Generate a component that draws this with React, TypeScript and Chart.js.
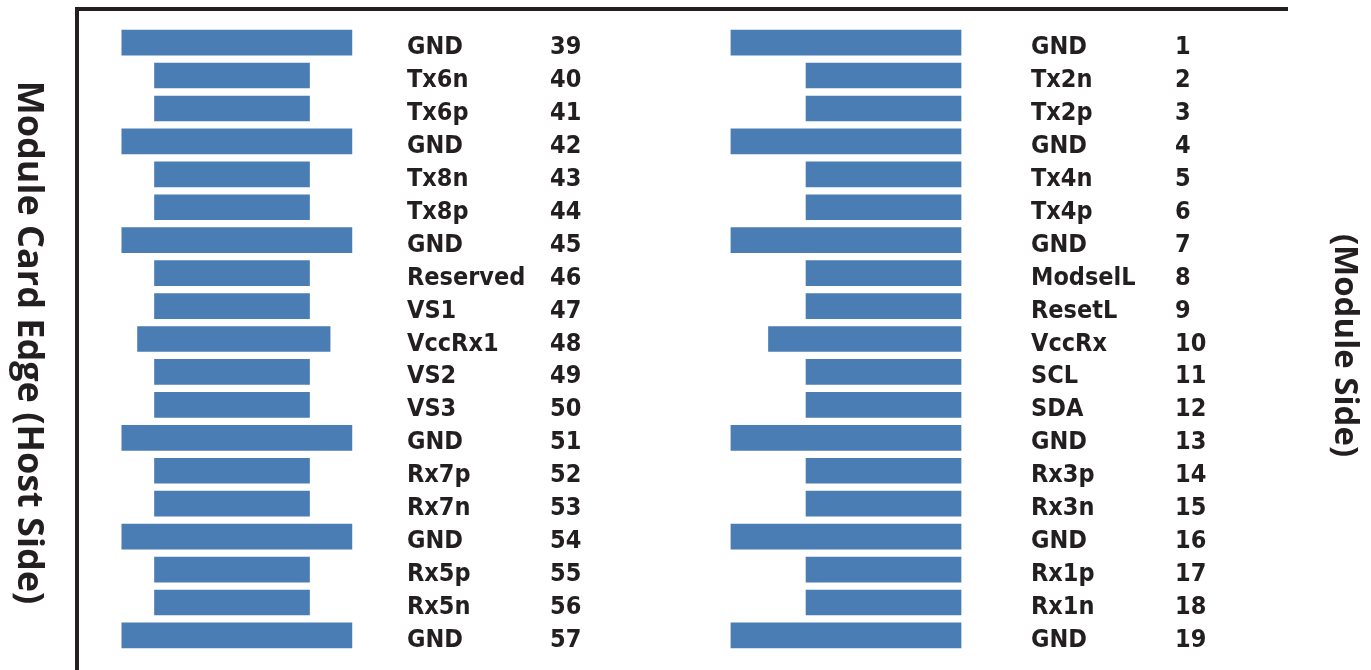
import React, { useEffect, useRef } from "react";
import { Chart, registerables } from "chart.js";

Chart.register(...registerables);

// Host side (left column) pins 39..57
const leftPinNumbers = ["39","40","41","42","43","44","45","46","47","48","49","50","51","52","53","54","55","56","57"];
const leftPinNames = ["GND","Tx6n","Tx6p","GND","Tx8n","Tx8p","GND","Reserved","VS1","VccRx1","VS2","VS3","GND","Rx7p","Rx7n","GND","Rx5p","Rx5n","GND"];
const leftBarStart = [3.7,6.4,6.4,3.7,6.4,6.4,3.7,6.4,6.4,5.0,6.4,6.4,3.7,6.4,6.4,3.7,6.4,6.4,3.7];
const leftBarEnd = [22.7,19.2,19.2,22.7,19.2,19.2,22.7,19.2,19.2,20.9,19.2,19.2,22.7,19.2,19.2,22.7,19.2,19.2,22.7];

// Module side (right column) pins 1..19
const rightPinNumbers = ["1","2","3","4","5","6","7","8","9","10","11","12","13","14","15","16","17","18","19"];
const rightPinNames = ["GND","Tx2n","Tx2p","GND","Tx4n","Tx4p","GND","ModselL","ResetL","VccRx","SCL","SDA","GND","Rx3p","Rx3n","GND","Rx1p","Rx1n","GND"];
const rightBarStart = [54.0,60.2,60.2,54.0,60.2,60.2,54.0,60.2,60.2,57.1,60.2,60.2,54.0,60.2,60.2,54.0,60.2,60.2,54.0];
const rightBarEnd = [73.0,73.0,73.0,73.0,73.0,73.0,73.0,73.0,73.0,73.0,73.0,73.0,73.0,73.0,73.0,73.0,73.0,73.0,73.0];

// label columns (x-scale units)
const leftNameCol = 27.25;
const leftNumCol = 39.06;
const rightNameCol = 78.78;
const rightNumCol = 90.67;

const leftTitle = "Module Card Edge (Host Side)";
const rightTitle = "(Module Side)";

const BAR_COLOR = "#4a7db3";
const INK = "#231f20";

export default function App() {
  const ref = useRef<HTMLCanvasElement | null>(null);

  useEffect(() => {
    document.body.style.margin = "0";
    const canvas = ref.current;
    if (!canvas) return;

    const labelsPlugin = {
      id: "pinLabels",
      afterDatasetsDraw(chart: any) {
        const { ctx, chartArea, scales } = chart;
        const xs = scales.x;
        const ys = scales.y;
        ctx.save();
        // frame lines
        ctx.strokeStyle = INK;
        ctx.lineWidth = 4;
        ctx.beginPath();
        ctx.moveTo(chartArea.left, chartArea.bottom);
        ctx.lineTo(chartArea.left, chartArea.top);
        ctx.lineTo(chartArea.right, chartArea.top);
        ctx.stroke();

        ctx.fillStyle = INK;
        ctx.font = "bold 25px 'DejaVu Sans Condensed', 'DejaVu Sans', sans-serif";
        ctx.textAlign = "left";
        ctx.textBaseline = "alphabetic";
        const draw = (names: string[], nums: string[], nameCol: number, numCol: number) => {
          names.forEach((n, i) => {
            const y = ys.getPixelForValue(i) + 11.5;
            ctx.fillText(n, xs.getPixelForValue(nameCol), y);
            ctx.fillText(nums[i], xs.getPixelForValue(numCol), y);
          });
        };
        draw(leftPinNames, leftPinNumbers, leftNameCol, leftNumCol);
        draw(rightPinNames, rightPinNumbers, rightNameCol, rightNumCol);

        // vertical titles (rotated clockwise)
        ctx.textAlign = "center";
        ctx.textBaseline = "middle";
        const midY = (chartArea.top + chartArea.bottom) / 2;
        ctx.save();
        ctx.font = "bold 36px 'Open Sans', sans-serif";
        ctx.translate(chartArea.left - 49, midY + 3);
        ctx.rotate(Math.PI / 2);
        ctx.fillText(leftTitle, 0, 0);
        ctx.restore();
        ctx.save();
        ctx.font = "bold 33px 'Open Sans', sans-serif";
        ctx.translate(chartArea.right + 56, midY + 6);
        ctx.rotate(Math.PI / 2);
        ctx.fillText(rightTitle, 0, 0);
        ctx.restore();
        ctx.restore();
      },
    };

    const chart = new Chart(canvas, {
      type: "bar",
      data: {
        datasets: [
          {
            label: "Host side",
            data: leftBarStart.map((s, i) => ({ x: [s, leftBarEnd[i]], y: i })) as any,
            backgroundColor: BAR_COLOR,
            borderWidth: 0,
            barThickness: 25,
            grouped: false,
          },
          {
            label: "Module side",
            data: rightBarStart.map((s, i) => ({ x: [s, rightBarEnd[i]], y: i })) as any,
            backgroundColor: BAR_COLOR,
            borderWidth: 0,
            barThickness: 25,
            grouped: false,
          },
        ],
      },
      options: {
        indexAxis: "y",
        responsive: false,
        animation: false,
        layout: { padding: { left: 77, top: 9, right: 83, bottom: 0 } },
        plugins: { legend: { display: false }, tooltip: { enabled: false } },
        scales: {
          x: { type: "linear", min: 0, max: 100, display: false, offset: false },
          y: { type: "linear", min: -1.02, max: 19.05, reverse: true, display: false, offset: false },
        },
      },
      plugins: [labelsPlugin],
    });
    return () => chart.destroy();
  }, []);

  return (
    <div style={{ width: 1371, height: 670 }}>
      <canvas ref={ref} width={1371} height={670} style={{ display: "block" }} />
    </div>
  );
}
